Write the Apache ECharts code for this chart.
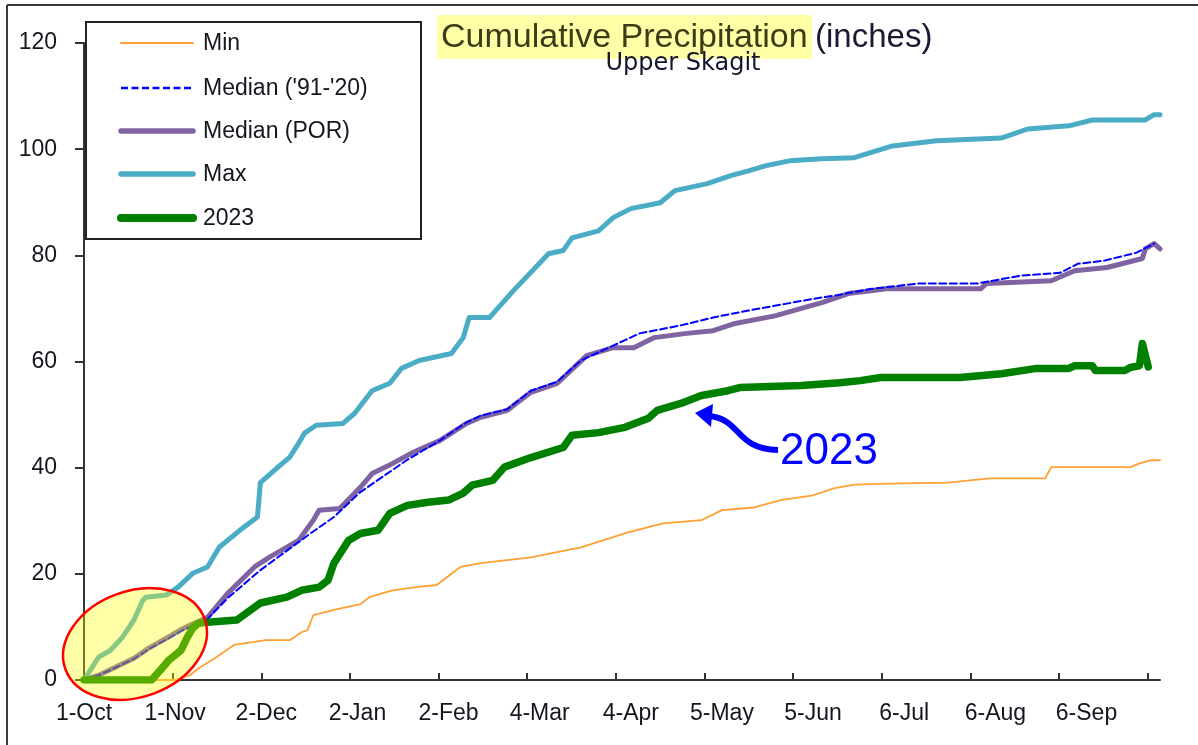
<!DOCTYPE html>
<html><head><meta charset="utf-8">
<script src="https://cdn.jsdelivr.net/npm/echarts@6/dist/echarts.min.js"></script>
<style>html,body{margin:0;padding:0;background:#fff}#c{width:1198px;height:745px}</style>
</head><body><div id="c"></div>
<script>
// ---- data (day of water year, inches) ----
const xTickLabels = ['1-Oct','1-Nov','2-Dec','2-Jan','2-Feb','4-Mar','4-Apr','5-May','5-Jun','6-Jul','6-Aug','6-Sep'];
const tickStepDays = 31;
const seriesNames = ['Min', "Median ('91-'20)", 'Median (POR)', 'Max', '2023'];

const minData = [[0,0],[16,0],[31,0],[36,0.9],[39,2.2],[45,4.3],[51,6.6],[62,7.5],[70,7.5],[74,9],[76,9.4],[78,12.2],[85,13.2],[94,14.3],[97,15.6],[105,16.9],[113,17.5],[120,17.9],[128,21.3],[135,22],[152,23.1],[169,25],[185,27.8],[197,29.5],[210,30.1],[217,32],[228,32.5],[237,33.9],[248,34.8],[255,36.1],[262,36.8],[274,37],[294,37.2],[308,38],[327,38],[329,40.1],[356,40.1],[359,40.8],[363,41.4],[366,41.4]];

const median9120Data = [[0,0],[5,0.9],[11,2.4],[17,4],[22,5.8],[28,7.6],[34,9.5],[42,11.5],[49,15.5],[60,20.7],[77,27.6],[85,30.7],[94,35.4],[110,41.5],[121,45.1],[130,48.5],[135,49.8],[144,51],[152,54.5],[161,56.2],[169,60.2],[180,63],[189,65.3],[203,66.8],[214,68.3],[226,69.6],[239,70.9],[248,71.8],[255,72.4],[268,73.7],[284,74.7],[304,74.7],[319,76.2],[332,76.7],[338,78.4],[347,79],[358,80.5],[364,82.2]];

const medianPORData = [[0,0],[5,0.9],[11,2.5],[17,4.1],[22,6],[28,7.9],[34,9.8],[42,11.8],[49,16.4],[58,21.3],[63,23.1],[73,26.3],[78,30.1],[80,32],[87,32.3],[94,36.3],[98,38.9],[105,40.8],[112,42.9],[121,45.1],[130,48.3],[135,49.5],[144,50.8],[152,54.2],[161,55.9],[171,61.1],[180,62.6],[187,62.6],[194,64.5],[205,65.3],[214,65.8],[221,67.1],[235,68.6],[244,70],[251,71.1],[260,72.8],[273,73.7],[305,73.7],[307,74.7],[329,75.2],[337,77.1],[348,77.7],[360,79.4],[361,81.2],[364,82.2],[366,81.2]];

const maxData = [[0,0],[5,4.3],[9,5.6],[13,8],[17,11.3],[20,15],[21,15.6],[28,16],[32,17.5],[37,20.1],[42,21.3],[46,25],[53,28.2],[59,30.7],[60,37.2],[66,40.1],[70,42],[73,44.6],[75,46.5],[79,48],[88,48.3],[92,50.2],[98,54.5],[104,55.9],[108,58.7],[114,60.2],[125,61.5],[129,64.5],[131,68.3],[138,68.3],[146,73.3],[158,80.3],[163,80.9],[166,83.3],[175,84.6],[180,87.1],[186,88.8],[196,89.9],[201,92.2],[212,93.5],[220,95],[226,95.9],[232,96.9],[240,97.8],[251,98.2],[262,98.4],[275,100.6],[290,101.6],[312,102.1],[321,103.8],[335,104.4],[343,105.5],[361,105.5],[364,106.5],[366,106.5]];

const wy2023Data = [[0,0],[23,0],[26,1.9],[29,3.8],[33,5.6],[35,7.9],[37,9.8],[39,10.7],[42,10.9],[52,11.3],[60,14.5],[69,15.6],[74,16.9],[80,17.5],[83,18.8],[85,22],[90,26.3],[94,27.6],[100,28.2],[104,31.4],[110,32.9],[117,33.5],[124,33.9],[129,35.2],[132,36.7],[139,37.6],[143,40.1],[152,41.9],[163,43.8],[166,46.1],[175,46.6],[184,47.6],[192,49.3],[195,50.8],[203,52.1],[210,53.6],[219,54.5],[223,55.1],[244,55.5],[257,56],[264,56.4],[271,57],[298,57],[312,57.7],[324,58.7],[335,58.7],[337,59.2],[343,59.2],[344,58.3],[354,58.3],[356,58.9],[359,59.2],[360,63.4],[362,59]];

// ---- styles ----
const FONT = "'Liberation Sans', Arial, sans-serif";
const TXT = '#151520';
const seriesStyles = [
  {color: '#FFA033', width: 1.8, type: 'solid', z: 2},
  {color: '#0000FF', width: 2, type: [7, 3.5], z: 4},
  {color: '#8064A2', width: 5, type: 'solid', z: 3},
  {color: '#4BACC6', width: 5, type: 'solid', z: 5},
  {color: '#008000', width: 7.5, type: 'solid', z: 6}
];
const seriesData = [minData, median9120Data, medianPORData, maxData, wy2023Data];

const chart = echarts.init(document.getElementById('c'), null, {renderer: 'canvas'});

const series = seriesNames.map((name, i) => ({
  name, type: 'line', data: seriesData[i], xAxisIndex: 0, yAxisIndex: 0,
  symbol: 'none', showSymbol: false, animation: false, silent: true, z: seriesStyles[i].z,
  lineStyle: {color: seriesStyles[i].color, width: seriesStyles[i].width, type: seriesStyles[i].type, cap: 'round', join: 'round'},
  itemStyle: {color: seriesStyles[i].color}
}));

// hand-drawn legend (box + samples + real text)
const legendRows = [43, 88, 131, 174, 218];
const legendGraphics = [
  {type: 'rect', z: 1, shape: {x: 86, y: 22, width: 335, height: 217}, style: {fill: '#fff', stroke: '#222', lineWidth: 2}}
];
seriesNames.forEach((name, i) => {
  const s = seriesStyles[i];
  legendGraphics.push({type: 'line', z: 10, shape: {x1: 121, y1: legendRows[i], x2: 193, y2: legendRows[i]},
    style: {stroke: s.color, lineWidth: s.width === 1.8 ? 2 : s.width + 0.5, lineDash: Array.isArray(s.type) ? s.type : null, lineCap: Array.isArray(s.type) ? 'butt' : 'round'}});
  legendGraphics.push({type: 'text', z: 10, x: 203, y: legendRows[i] + 1,
    style: {text: name, fontSize: 23, fontFamily: FONT, fill: TXT, align: 'left', verticalAlign: 'middle'}});
});

const option = {
  backgroundColor: '#fff',
  animation: false,
  grid: [
    {left: 84, right: 38, top: 43, bottom: 65},
    {left: 84, right: 1198 - 84 - 372 * (1075 / 376), top: 43, bottom: 65}
  ],
  xAxis: [
    {
      type: 'value', gridIndex: 0, min: 0, max: 366, interval: tickStepDays,
      axisLine: {show: true, lineStyle: {color: '#333', width: 2}},
      axisTick: {show: false},
      splitLine: {show: false},
      axisLabel: {
        show: true, margin: 22, color: TXT, fontSize: 23, fontFamily: FONT,
        showMaxLabel: false,
        formatter: v => (v % tickStepDays === 0 ? (xTickLabels[v / tickStepDays] || '') : '')
      }
    },
    {
      type: 'value', gridIndex: 1, min: 0, max: 372, interval: tickStepDays,
      axisLine: {show: false},
      axisTick: {show: true, inside: true, length: 7, lineStyle: {color: '#333', width: 2}},
      axisLabel: {show: false},
      splitLine: {show: false}
    }
  ],
  yAxis: [
    {
      type: 'value', gridIndex: 0, min: 0, max: 120, interval: 20,
      axisLine: {show: true, lineStyle: {color: '#333', width: 2}},
      axisTick: {show: true, inside: false, length: 9, lineStyle: {color: '#333', width: 2}},
      splitLine: {show: false},
      axisLabel: {margin: 27, color: TXT, fontSize: 23, fontFamily: FONT}
    },
    {type: 'value', gridIndex: 1, min: 0, max: 120, show: false}
  ],
  series,
  graphic: [
    // outer frame (top + left edges)
    {type: 'line', z: 50, shape: {x1: 7, y1: 5, x2: 1198, y2: 5}, style: {stroke: '#3a3a3a', lineWidth: 2}},
    {type: 'line', z: 50, shape: {x1: 7, y1: 5, x2: 7, y2: 745}, style: {stroke: '#3a3a3a', lineWidth: 2}},
    ...legendGraphics,
    // title highlight + titles
    {type: 'rect', z: 1, shape: {x: 437, y: 15, width: 375, height: 44}, style: {fill: '#FFFFA8'}},
    {type: 'text', z: 20, x: 441, y: 38, style: {text: 'Cumulative Precipitation', fontSize: 34, fontFamily: FONT, fill: '#3c3c16', align: 'left', verticalAlign: 'middle'}},
    {type: 'text', z: 20, x: 815, y: 38, style: {text: '(inches)', fontSize: 33, fontFamily: FONT, fill: '#1a1a33', align: 'left', verticalAlign: 'middle'}},
    {type: 'text', z: 20, x: 683, y: 64, style: {text: 'Upper Skagit', fontSize: 24, fontFamily: "'DejaVu Sans', sans-serif", fill: '#151530', align: 'center', verticalAlign: 'middle'}},
    // yellow highlight ellipse over the early season
    {type: 'ellipse', z: 30, x: 135, y: 644, rotation: 0.345, shape: {cx: 0, cy: 0, rx: 74, ry: 53},
      style: {fill: 'rgba(255,255,0,0.34)', stroke: '#FF0000', lineWidth: 2.5}},
    // 2023 annotation
    {type: 'bezierCurve', z: 30, shape: {x1: 778, y1: 450, cpx1: 735, cpy1: 449, cpx2: 742, cpy2: 420, x2: 710, y2: 416},
      style: {stroke: '#0000FF', lineWidth: 6, fill: null}},
    {type: 'polygon', z: 30, shape: {points: [[695, 413], [713, 404], [711, 427]]}, style: {fill: '#0000FF'}},
    {type: 'text', z: 30, x: 780, y: 452, style: {text: '2023', fontSize: 44, fontFamily: FONT, fill: '#0000FF', align: 'left', verticalAlign: 'middle'}}
  ]
};
chart.setOption(option);
</script>
</body></html>
